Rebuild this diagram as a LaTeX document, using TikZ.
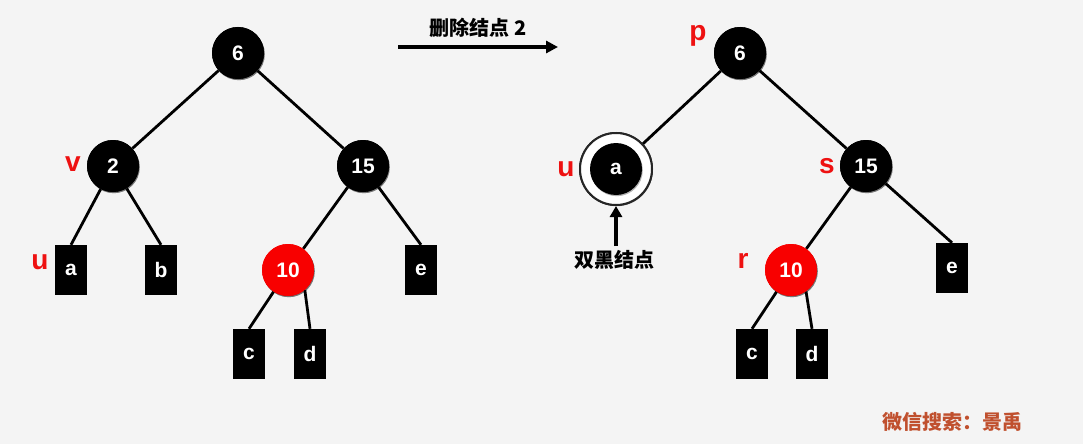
\documentclass[tikz,border=0pt]{standalone}
\usepackage{fontspec}
\setmainfont{Liberation Sans}
\newfontfamily\cjk{Noto Sans CJK SC}
\usetikzlibrary{shadows,arrows.meta}
\definecolor{bg}{HTML}{F4F4F4}
\definecolor{nodered}{HTML}{F80000}
\definecolor{lblred}{HTML}{EE1111}
\definecolor{wmark}{HTML}{C0502E}
\tikzset{
  bnode/.style={circle,fill=black,minimum size=52pt,inner sep=0pt,text=white,
    font=\bfseries\fontsize{21}{21}\selectfont,
    drop shadow={shadow xshift=0.8pt,shadow yshift=-1.2pt,opacity=0.3,fill=black}},
  rnode/.style={bnode,fill=nodered},
  leaf/.style={rectangle,fill=black,minimum width=32pt,minimum height=50pt,inner sep=0pt,
    text=white,font=\bfseries\fontsize{21}{21}\selectfont},
  edge/.style={line width=2.8pt,black},
  lbl/.style={text=lblred,font=\bfseries\fontsize{28}{28}\selectfont,inner sep=0pt},
  cjklbl/.style={font=\cjk\bfseries\fontsize{20}{20}\selectfont,inner sep=0pt},
  bigarrow/.style={line width=3.4pt,-{Triangle[length=12pt,width=12pt]}}
}
\begin{document}
\begin{tikzpicture}[x=1pt,y=-1pt]
\useasboundingbox[fill=bg] (0,0) rectangle (1083,444);
% ---------- left tree ----------
\node[bnode] (L6) at (238,53) {6};
\node[bnode] (L2) at (113,166) {2};
\node[bnode] (L15) at (363,166) {15};
\node[rnode] (L10) at (288,270) {10};
\node[leaf] (La) at (71,270) {a};
\node[leaf] (Lb) at (161,270) {b};
\node[leaf] (Le) at (421,270) {e};
\node[leaf] (Lc) at (249,354) {c};
\node[leaf] (Ld) at (310,354) {d};
\draw[edge] (L6) -- (L2);
\draw[edge] (L6) -- (L15);
\draw[edge] (L2) -- (La.north);
\draw[edge] (L2) -- (Lb.north);
\draw[edge] (L15) -- (L10);
\draw[edge] (L15) -- (Le.north);
\draw[edge] (L10) -- (Lc.north);
\draw[edge] (L10.-50) -- (Ld.north);
% redraw nodes on top
\node[bnode] at (L6) {6};
\node[bnode] at (L2) {2};
\node[bnode] at (L15) {15};
\node[rnode] at (L10) {10};
\node[lbl] (lv) at (73,164) {v};
\node[lbl] (lu) at (40,262) {u};
% ---------- arrow ----------
\coordinate (A1) at (398,47);
\coordinate (A2) at (558,47);
\draw[bigarrow] (A1) -- (A2);
\node[cjklbl] (del) at (478,28) {删除结点 2};
% ---------- right tree ----------
\node[bnode] (R6) at (740,53) {};
\node[circle,draw=black!85,line width=2pt,fill=white,minimum size=72pt,inner sep=0pt,
  drop shadow={shadow xshift=0.8pt,shadow yshift=-1.2pt,opacity=0.3,fill=black}] (Ring) at (616,169) {};
\node[bnode] (R15) at (866,166) {};
\node[rnode] (R10) at (791,270) {};
\node[leaf] (Rc) at (752,354) {c};
\node[leaf] (Rd) at (812,354) {d};
\node[leaf] (Re) at (952,268) {e};
\draw[edge] (R6) -- (Ring);
\draw[edge] (R6) -- (R15);
\draw[edge] (R15) -- (R10);
\draw[edge] (R15) -- (Re.north);
\draw[edge] (R10) -- (Rc.north);
\draw[edge] (R10.-55) -- (Rd.north);
\node[bnode] at (R6) {6};
\node[circle,draw=black!85,line width=2pt,fill=white,minimum size=72pt,inner sep=0pt] at (Ring) {};
\node[bnode,drop shadow={opacity=0}] (Ra) at (Ring) {a};
\node[bnode] at (R15) {15};
\node[rnode] at (R10) {10};
\node[lbl] (rp) at (698,36) {p};
\node[lbl] (ru) at (566,169) {u};
\node[lbl] (rs) at (827,166) {s};
\node[lbl] (rr) at (743,261) {r};
\coordinate (B1) at (616,246);
\draw[bigarrow,-{Triangle[length=11pt,width=12pt]}] (B1) -- (Ring.south);
\node[cjklbl] (dbl) at (614,260) {双黑结点};
% watermark
\node[font=\cjk\bfseries\fontsize{20}{20}\selectfont,text=wmark,inner sep=0pt] (wm) at (952,422) {微信搜索：景禹};
\end{tikzpicture}
\end{document}
